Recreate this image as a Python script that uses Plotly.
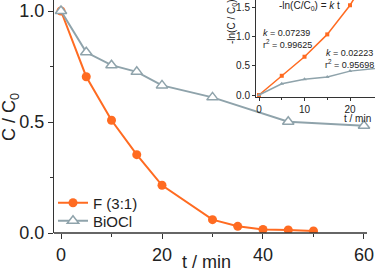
import plotly.graph_objects as go

# Main data
t_f = [0, 5, 10, 15, 20, 30, 35, 40, 45, 50]
c_f = [1.0, 0.704, 0.508, 0.353, 0.215, 0.060, 0.030, 0.016, 0.014, 0.009]
t_b = [0, 5, 10, 15, 20, 30, 45, 60]
c_b = [1.0, 0.814, 0.756, 0.726, 0.665, 0.611, 0.501, 0.483]

# Inset data: -ln(C/C0)
ti_f = [0, 5, 10, 15, 20, 30]
lnc_f = [0.0, 0.33, 0.657, 1.04, 1.54, 2.81]
ti_b = [0, 5, 10, 15, 20, 30]
lnc_b = [0.0, 0.194, 0.27, 0.31, 0.41, 0.49]

ORANGE = "#FF6B21"
GREY = "#8FA3AB"
AX = "#333333"
FONT = "Liberation Sans, Arial, sans-serif"

W, H = 375, 271
ML, MR, MT, MB = 54, 0, 0, 38
PW, PH = W - ML - MR, H - MT - MB

def px(x):
    return (x - ML) / PW

def py(y):
    return (H - MB - y) / PH

fig = go.Figure()
fig.add_trace(go.Scatter(x=t_f, y=c_f, mode="lines+markers", name="F (3:1)",
                         line=dict(color=ORANGE, width=2),
                         marker=dict(symbol="circle", size=9, color=ORANGE),
                         xaxis="x", yaxis="y", legend="legend"))
fig.add_trace(go.Scatter(x=t_b, y=c_b, mode="lines+markers", name="BiOCl",
                         line=dict(color=GREY, width=2),
                         marker=dict(symbol="triangle-up", size=10, color="white",
                                     line=dict(color=GREY, width=1.5)),
                         xaxis="x", yaxis="y", legend="legend2"))
fig.add_trace(go.Scatter(x=ti_f, y=lnc_f, mode="lines+markers", showlegend=False,
                         line=dict(color=ORANGE, width=1.5),
                         marker=dict(symbol="square", size=4, color=ORANGE),
                         xaxis="x2", yaxis="y2"))
fig.add_trace(go.Scatter(x=ti_b, y=lnc_b, mode="lines+markers", showlegend=False,
                         line=dict(color=GREY, width=1.5),
                         marker=dict(symbol="triangle-up", size=4, color=GREY),
                         xaxis="x2", yaxis="y2"))

tickfont = dict(family=FONT, size=18, color="#222")
smallfont = dict(family=FONT, size=10, color="#222")
legfont = dict(family=FONT, size=15, color="#222")

fig.update_layout(
    width=W, height=H,
    margin=dict(l=ML, r=MR, t=MT, b=MB),
    paper_bgcolor="white", plot_bgcolor="rgba(0,0,0,0)",
    font=dict(family=FONT, color="#222"),
    xaxis=dict(domain=[0, 1], range=[-1.386, 62.18], tickvals=[0, 20, 40, 60],
               ticks="outside", ticklen=5, tickwidth=1.2, tickcolor=AX,
               minor=dict(tickvals=[10, 30, 50], ticks="outside", ticklen=3, tickcolor=AX),
               showline=False, showgrid=False, zeroline=False, tickfont=tickfont),
    yaxis=dict(domain=[0, 1], range=[0, 1.0496], tickvals=[0, 0.5, 1.0],
               ticktext=["0.0", "0.5", "1.0"],
               ticks="outside", ticklen=5, tickwidth=1.2, tickcolor=AX,
               minor=dict(tickvals=[0.25, 0.75], ticks="outside", ticklen=3, tickcolor=AX),
               showline=True, linecolor=AX, linewidth=1.3,
               showgrid=False, zeroline=False, tickfont=tickfont),
    xaxis2=dict(domain=[px(256), 1.0], range=[-0.66, 25.49], anchor="y2",
                tickvals=[0, 10, 20], ticks="outside", ticklen=3, tickcolor=AX,
                minor=dict(tickvals=[5, 15], ticks="outside", ticklen=2, tickcolor=AX),
                showline=True, linecolor=AX, linewidth=1,
                showgrid=False, zeroline=False, tickfont=smallfont),
    yaxis2=dict(domain=[py(97), 1.0], range=[-0.034, 1.63], anchor="x2",
                tickvals=[0, 0.5, 1.0, 1.5], ticktext=["0.0", "0.5", "1.0", "1.5"],
                ticks="outside", ticklen=3, tickcolor=AX,
                showline=True, linecolor=AX, linewidth=1,
                showgrid=False, zeroline=False, tickfont=smallfont),
    legend=dict(x=px(53), y=py(203), xanchor="left", yanchor="middle",
                bgcolor="rgba(0,0,0,0)", font=legfont, itemwidth=30),
    legend2=dict(x=px(53), y=py(221), xanchor="left", yanchor="middle",
                 bgcolor="rgba(0,0,0,0)", font=legfont, itemwidth=30),
    showlegend=True,
)

# main x axis line (stops at plot edge of main chart)
fig.add_shape(type="line", xref="x", yref="paper", x0=-1.386, x1=60.6, y0=0, y1=0,
              line=dict(color=AX, width=1.3))

ann = [
    dict(text="C / C<sub>0</sub>", x=px(11), y=py(117), textangle=-90, font=dict(family=FONT, size=18)),
    dict(text="t / min", x=px(206), y=py(262), font=dict(family=FONT, size=18)),
    dict(text="-ln(C/C<sub>0</sub>) = <i>k</i> t", x=px(309), y=py(6), font=dict(family=FONT, size=10)),
    dict(text="-ln(C / C<sub>0</sub>)", x=px(232), y=py(22), textangle=-90, font=dict(family=FONT, size=10)),
    dict(text="t / min", x=px(373), y=py(118), xanchor="right", font=dict(family=FONT, size=10)),
    dict(text="<i>k</i> = 0.07239", x=px(261), y=py(33), xanchor="left", font=dict(family=FONT, size=9)),
    dict(text="r<sup>2</sup> = 0.99625", x=px(261), y=py(44), xanchor="left", font=dict(family=FONT, size=9)),
    dict(text="<i>k</i> = 0.02223", x=px(324), y=py(53), xanchor="left", font=dict(family=FONT, size=9)),
    dict(text="r<sup>2</sup> = 0.95698", x=px(323), y=py(64), xanchor="left", font=dict(family=FONT, size=9)),
]
for a in ann:
    a.setdefault("xanchor", "center")
    fig.add_annotation(xref="paper", yref="paper", showarrow=False, yanchor="middle", **a)

fig.write_html("out.html", config={"displayModeBar": False},
               post_script="document.body.style.margin='0';document.body.style.overflow='hidden';")
